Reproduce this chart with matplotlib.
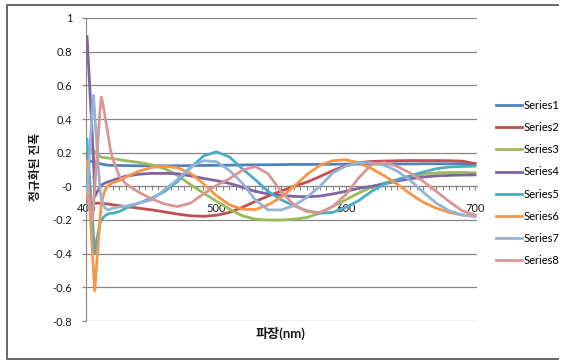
import numpy as np
import matplotlib
matplotlib.use("Agg")
import matplotlib.pyplot as plt
from matplotlib.ticker import MultipleLocator, FixedLocator

plt.rcParams['font.family'] = ['Lato', 'Noto Sans CJK KR', 'DejaVu Sans']

# wavelength grid (nm): fine steps near 400 where the spikes are
wavelength = [400, 402, 404, 405, 406, 408, 410, 411, 412, 414, 416, 418, 420, 425, 430,
              440, 450, 460, 470, 480, 490, 500, 510, 520, 530, 540, 550, 560, 570,
              580, 590, 600, 610, 620, 630, 640, 650, 660, 670, 680, 690, 700]

series1 = [0.15, 0.15, 0.148, 0.146, 0.144, 0.14, 0.135, 0.133, 0.131, 0.128, 0.126, 0.125, 0.125, 0.124, 0.123,
           0.122, 0.122, 0.122, 0.122, 0.123, 0.124, 0.125, 0.126, 0.127, 0.128, 0.128, 0.129, 0.13, 0.13,
           0.131, 0.131, 0.132, 0.132, 0.132, 0.133, 0.133, 0.133, 0.134, 0.134, 0.134, 0.135, 0.135]
series2 = [-0.09, -0.095, -0.1, -0.1, -0.1, -0.1, -0.1, -0.1, -0.102, -0.103, -0.105, -0.107, -0.11, -0.115, -0.12,
           -0.13, -0.14, -0.152, -0.165, -0.175, -0.178, -0.172, -0.155, -0.125, -0.09, -0.058, -0.028, 0.0, 0.025,
           0.058, 0.093, 0.123, 0.14, 0.148, 0.15, 0.152, 0.153, 0.153, 0.153, 0.152, 0.15, 0.135]
series3 = [0.23, 0.225, 0.215, 0.21, 0.205, 0.19, 0.178, 0.174, 0.172, 0.17, 0.168, 0.166, 0.165, 0.158, 0.152,
           0.142, 0.128, 0.105, 0.065, 0.01, -0.04, -0.088, -0.135, -0.175, -0.195, -0.2, -0.2, -0.195, -0.185,
           -0.16, -0.12, -0.08, -0.04, -0.005, 0.02, 0.04, 0.058, 0.072, 0.08, 0.082, 0.083, 0.08]
series4 = [0.89, 0.6, 0.31, 0.16, -0.06, -0.03, -0.005, 0.005, 0.012, 0.02, 0.026, 0.031, 0.036, 0.05, 0.06,
           0.072, 0.077, 0.077, 0.075, 0.062, 0.047, 0.034, 0.018, -0.005, -0.03, -0.045, -0.053, -0.06, -0.062,
           -0.058, -0.045, -0.03, -0.012, 0.0, 0.015, 0.032, 0.045, 0.055, 0.062, 0.065, 0.067, 0.068]
series5 = [0.28, 0.05, -0.18, -0.29, -0.4, -0.3, -0.22, -0.2, -0.19, -0.175, -0.165, -0.16, -0.16, -0.15, -0.13,
           -0.1, -0.07, -0.03, 0.03, 0.11, 0.18, 0.205, 0.175, 0.105, 0.04, -0.03, -0.08, -0.115, -0.145,
           -0.16, -0.155, -0.125, -0.085, -0.03, 0.015, 0.04, 0.063, 0.085, 0.105, 0.115, 0.118, 0.12]
series6 = [0.15, -0.1, -0.37, -0.5, -0.62, -0.4, -0.2, -0.11, -0.07, -0.02, 0.0, 0.012, 0.022, 0.035, 0.055,
           0.09, 0.112, 0.12, 0.11, 0.078, 0.015, -0.055, -0.11, -0.135, -0.138, -0.11, -0.065, 0.0, 0.07,
           0.125, 0.152, 0.158, 0.14, 0.105, 0.062, 0.012, -0.045, -0.095, -0.13, -0.155, -0.17, -0.178]
series7 = [-0.05, 0.2, 0.45, 0.54, 0.42, 0.2, -0.02, -0.07, -0.1, -0.13, -0.14, -0.135, -0.13, -0.122, -0.118,
           -0.1, -0.08, -0.02, 0.04, 0.115, 0.152, 0.147, 0.095, 0.02, -0.08, -0.14, -0.14, -0.115, -0.065,
           0.0, 0.08, 0.12, 0.14, 0.14, 0.125, 0.09, 0.035, -0.035, -0.1, -0.145, -0.17, -0.178]
series8 = [-0.05, -0.13, -0.2, -0.12, 0.0, 0.22, 0.45, 0.53, 0.5, 0.41, 0.32, 0.22, 0.16, 0.06, 0.015,
           -0.035, -0.075, -0.105, -0.12, -0.1, -0.045, 0.005, 0.045, 0.095, 0.118, 0.075, -0.03, -0.11, -0.15,
           -0.155, -0.12, -0.05, 0.05, 0.13, 0.142, 0.118, 0.078, 0.03, -0.03, -0.09, -0.145, -0.17]

names = ['Series1', 'Series2', 'Series3', 'Series4', 'Series5', 'Series6', 'Series7', 'Series8']
colors = ['#4F81BD', '#C0504D', '#9BBB59', '#8064A2', '#4BACC6', '#F79646', '#95B3D7', '#D99694']
all_series = [series1, series2, series3, series4, series5, series6, series7, series8]

W, H = 568, 361
fig = plt.figure(figsize=(W / 100, H / 100), dpi=100)
ax = fig.add_axes([86 / W, 1 - 321 / H, 391 / W, 303 / H])

grid_c = '#878787'
txt_c = '#1a1a1a'
for name, c, s in zip(names, colors, all_series):
    ax.plot(wavelength, s, color=c, lw=2.0, label=name, solid_joinstyle='round', zorder=3)

ax.set_xlim(399.2, 701.5)
ax.set_ylim(-0.8, 1.0)

# y axis
yt = np.arange(-0.8, 1.01, 0.2)
ax.set_yticks(yt)
ax.set_yticklabels(['%g' % round(v, 1) for v in yt])
ax.yaxis.grid(True, color=grid_c, lw=0.9)
ax.set_axisbelow(True)
ax.tick_params(axis='y', direction='out', length=3, width=0.9, color=grid_c,
               labelsize=8, pad=7, labelcolor=txt_c)

# x axis crossing at zero
ax.spines['bottom'].set_position(('data', 0))
ax.spines['bottom'].set_color(grid_c)
ax.spines['left'].set_color(grid_c)
ax.spines['top'].set_visible(False)
ax.spines['right'].set_visible(False)
ax.xaxis.set_major_locator(FixedLocator([400, 500, 600, 700]))
ax.xaxis.set_minor_locator(MultipleLocator(5))
ax.tick_params(axis='x', which='both', direction='out', length=3, width=0.8,
               color=grid_c, labelsize=8, pad=9, labelcolor=txt_c)

fig.text(35 / W, 1 - 167 / H, '정규화된 진폭', rotation=90, ha='center', va='center',
         fontsize=8.5, fontweight='bold', color=txt_c)
fig.text(280 / W, 1 - 333 / H, '파장(nm)', ha='center', va='center',
         fontsize=9.5, fontweight='bold', color=txt_c)

ax.legend(loc='center left', bbox_to_anchor=(490 / W, 1 - 183 / H),
          bbox_transform=fig.transFigure, frameon=False, fontsize=8,
          handlelength=2.4, handletextpad=0.1, labelspacing=1.0, borderpad=0)

# chart border
bc = '#5a5a5a'
fig.add_artist(plt.Line2D([558 / W, 7 / W, 7 / W, 558 / W],
                          [1 - 5 / H, 1 - 5 / H, 1 - 359 / H, 1 - 359 / H],
                          transform=fig.transFigure, color=bc, lw=1.3))

fig.savefig('out.png', dpi=100)
